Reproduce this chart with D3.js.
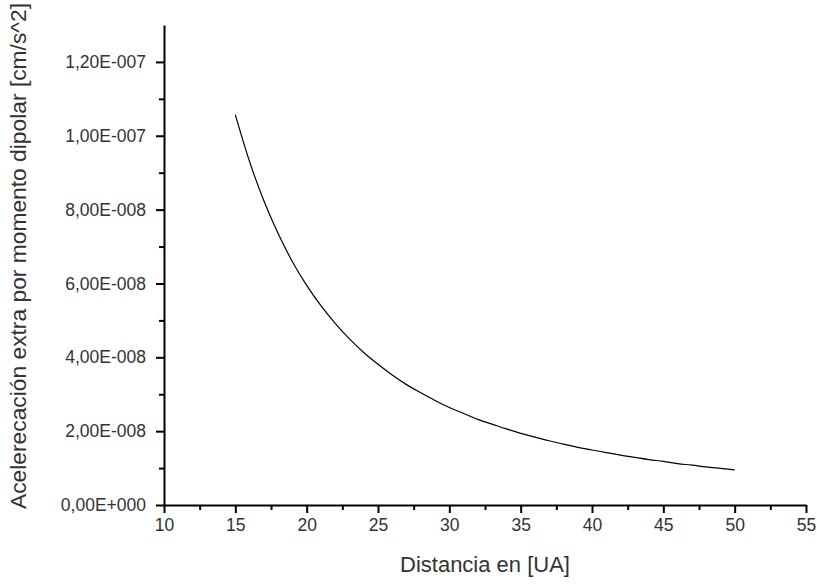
<!DOCTYPE html>
<html>
<head>
<meta charset="utf-8">
<style>
body { margin: 0; background: #fff; }
svg { display: block; }
.axis text { font-family: 'Liberation Sans', Arial, sans-serif; font-size: 17.5px; fill: #333; }
.axis path, .axis line { stroke: #000; stroke-width: 2px; }
.title { font-family: 'Liberation Sans', Arial, sans-serif; font-size: 22px; fill: #333; }
</style>
</head>
<body>
<div id="chart"></div>
<script src="https://d3js.org/d3.v7.min.js"></script>
<script>
// distance in UA and extra acceleration
var distancia = [15, 16, 17, 18, 19, 20, 21, 22, 23, 24, 25, 26, 27, 28, 29, 30, 31, 32,
  33, 34, 35, 36, 37, 38, 39, 40, 41, 42, 43, 44, 45, 46, 47, 48, 49, 50]
var aceleracion = [1.057e-7, 9.30e-8, 8.24e-8, 7.35e-8, 6.59e-8, 5.95e-8, 5.40e-8, 4.92e-8,
  4.50e-8, 4.13e-8, 3.81e-8, 3.52e-8, 3.26e-8, 3.04e-8, 2.83e-8, 2.64e-8, 2.48e-8, 2.32e-8,
  2.19e-8, 2.06e-8, 1.94e-8, 1.84e-8, 1.74e-8, 1.65e-8, 1.56e-8, 1.49e-8, 1.42e-8, 1.35e-8,
  1.29e-8, 1.23e-8, 1.18e-8, 1.12e-8, 1.08e-8, 1.03e-8, 9.9e-9, 9.5e-9]

var xTicks = [10, 15, 20, 25, 30, 35, 40, 45, 50, 55]
var xMinor = [12.5, 17.5, 22.5, 27.5, 32.5, 37.5, 42.5, 47.5, 52.5]
var yTicks = [0, 2e-8, 4e-8, 6e-8, 8e-8, 1e-7, 1.2e-7]
var yTickLabels = ['0,00E+000', '2,00E-008', '4,00E-008', '6,00E-008', '8,00E-008', '1,00E-007', '1,20E-007']
var yMinor = [1e-8, 3e-8, 5e-8, 7e-8, 9e-8, 1.1e-7]

var margin = { top: 25, left: 164, right: 11, bottom: 80 }
var width = 817 - margin.left - margin.right
var height = 585 - margin.top - margin.bottom

var svg = d3.select('#chart')
  .append('svg')
  .attr('width', 817)
  .attr('height', 585)

var g = svg.append('g')
  .attr('transform', 'translate(' + margin.left + ',' + margin.top + ')')

var xPositionScale = d3.scaleLinear().domain([10, 55]).range([0, width])
var yPositionScale = d3.scaleLinear().domain([0, 1.3e-7]).range([height, 0])

// minor ticks first, no labels
g.append('g')
  .attr('class', 'axis minor')
  .attr('transform', 'translate(0,' + height + ')')
  .call(d3.axisBottom(xPositionScale).tickValues(xMinor).tickSize(5).tickFormat(''))
  .call(s => s.select('.domain').remove())

g.append('g')
  .attr('class', 'axis minor')
  .call(d3.axisLeft(yPositionScale).tickValues(yMinor).tickSize(5).tickFormat(''))
  .call(s => s.select('.domain').remove())

var xAxis = d3.axisBottom(xPositionScale)
  .tickValues(xTicks)
  .tickSize(8)
  .tickSizeOuter(0)
  .tickPadding(6)
  .tickFormat(d3.format('d'))
g.append('g')
  .attr('class', 'axis x-axis')
  .attr('transform', 'translate(0,' + height + ')')
  .call(xAxis)

var yAxis = d3.axisLeft(yPositionScale)
  .tickValues(yTicks)
  .tickSize(8)
  .tickSizeOuter(0)
  .tickPadding(10)
  .tickFormat((d, i) => yTickLabels[i])
g.append('g')
  .attr('class', 'axis y-axis')
  .call(yAxis)

var datapoints = distancia.map((d, i) => ({ x: d, y: aceleracion[i] }))

var line = d3.line()
  .x(d => xPositionScale(d.x))
  .y(d => yPositionScale(d.y))
  .curve(d3.curveMonotoneX)

g.append('path')
  .datum(datapoints)
  .attr('d', line)
  .attr('fill', 'none')
  .attr('stroke', '#000')
  .attr('stroke-width', 1.2)

svg.append('text')
  .attr('class', 'title')
  .attr('x', margin.left + xPositionScale(32.5))
  .attr('y', 572)
  .attr('text-anchor', 'middle')
  .text('Distancia en [UA]')

svg.append('text')
  .attr('class', 'title')
  .style('font-size', '22.8px')
  .attr('transform', 'translate(26,' + 256 + ') rotate(-90)')
  .attr('text-anchor', 'middle')
  .text('Acelerecación extra por momento dipolar [cm/s^2]')
</script>
</body>
</html>
